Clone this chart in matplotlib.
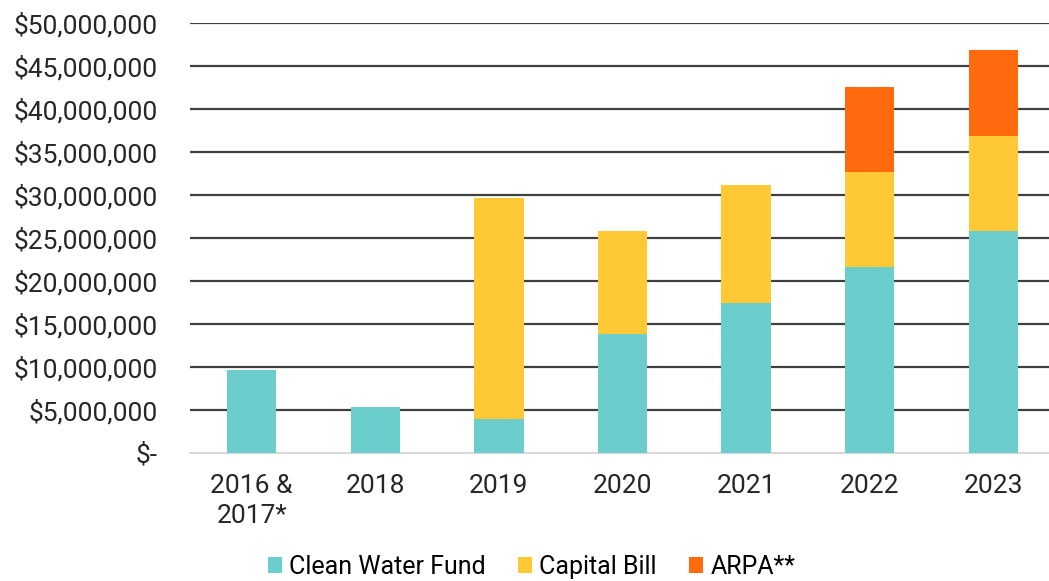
import matplotlib
matplotlib.use("Agg")
import matplotlib.pyplot as plt
import matplotlib.ticker as mticker
import numpy as np

plt.rcParams["font.family"] = ["Roboto", "DejaVu Sans"]

years = ["2016 &\n2017*", "2018", "2019", "2020", "2021", "2022", "2023"]
clean_water = [9.65e6, 5.3e6, 3.9e6, 13.8e6, 17.4e6, 21.6e6, 25.8e6]
capital_bill = [0, 0, 25.7e6, 12.05e6, 13.8e6, 11.1e6, 11.1e6]
arpa = [0, 0, 0, 0, 0, 9.9e6, 10.0e6]

C_TEAL = "#6CCDCD"
C_YELLOW = "#FFC835"
C_ORANGE = "#FF6A0E"

fig = plt.figure(figsize=(10.49, 5.81), dpi=100)
ax = fig.add_axes([0.181, 0.2203, 0.819, 0.7401])

x = np.arange(len(years))
w = 0.4
cw = np.array(clean_water)
cb = np.array(capital_bill)
ar = np.array(arpa)
ax.bar(x, cw, w, color=C_TEAL, label="Clean Water Fund", zorder=3)
ax.bar(x, cb, w, bottom=cw, color=C_YELLOW, label="Capital Bill", zorder=3)
ax.bar(x, ar, w, bottom=cw + cb, color=C_ORANGE, label="ARPA**", zorder=3)

ax.set_ylim(0, 50e6)
ax.set_xlim(-0.5, 6.45)
ax.set_yticks(np.arange(0, 50e6 + 1, 5e6))


def fmt(v, pos):
    return "$-" if v == 0 else f"${v:,.0f}"


ax.yaxis.set_major_formatter(mticker.FuncFormatter(fmt))
ax.grid(axis="y", color="#404040", linewidth=1.6, zorder=1)
ax.set_xticks(x)
ax.set_xticklabels(years, fontsize=19, color="#262626", linespacing=1.3)
ax.tick_params(axis="y", labelsize=19, labelcolor="#262626", length=0, pad=23)
ax.tick_params(axis="x", length=0, pad=15)
for s in ["top", "right", "left"]:
    ax.spines[s].set_visible(False)
ax.spines["bottom"].set_color("#D9D9D9")
ax.spines["bottom"].set_linewidth(1.5)

# gridline at zero replaced by light baseline
ax.get_ygridlines()[0].set_visible(False)

ax.legend(loc="lower center", bbox_to_anchor=(0.398, -0.345), ncol=3, frameon=False,
          fontsize=18, handlelength=0.55, handleheight=0.55, handletextpad=0.3,
          columnspacing=1.3)

fig.savefig("out.png", dpi=100)
